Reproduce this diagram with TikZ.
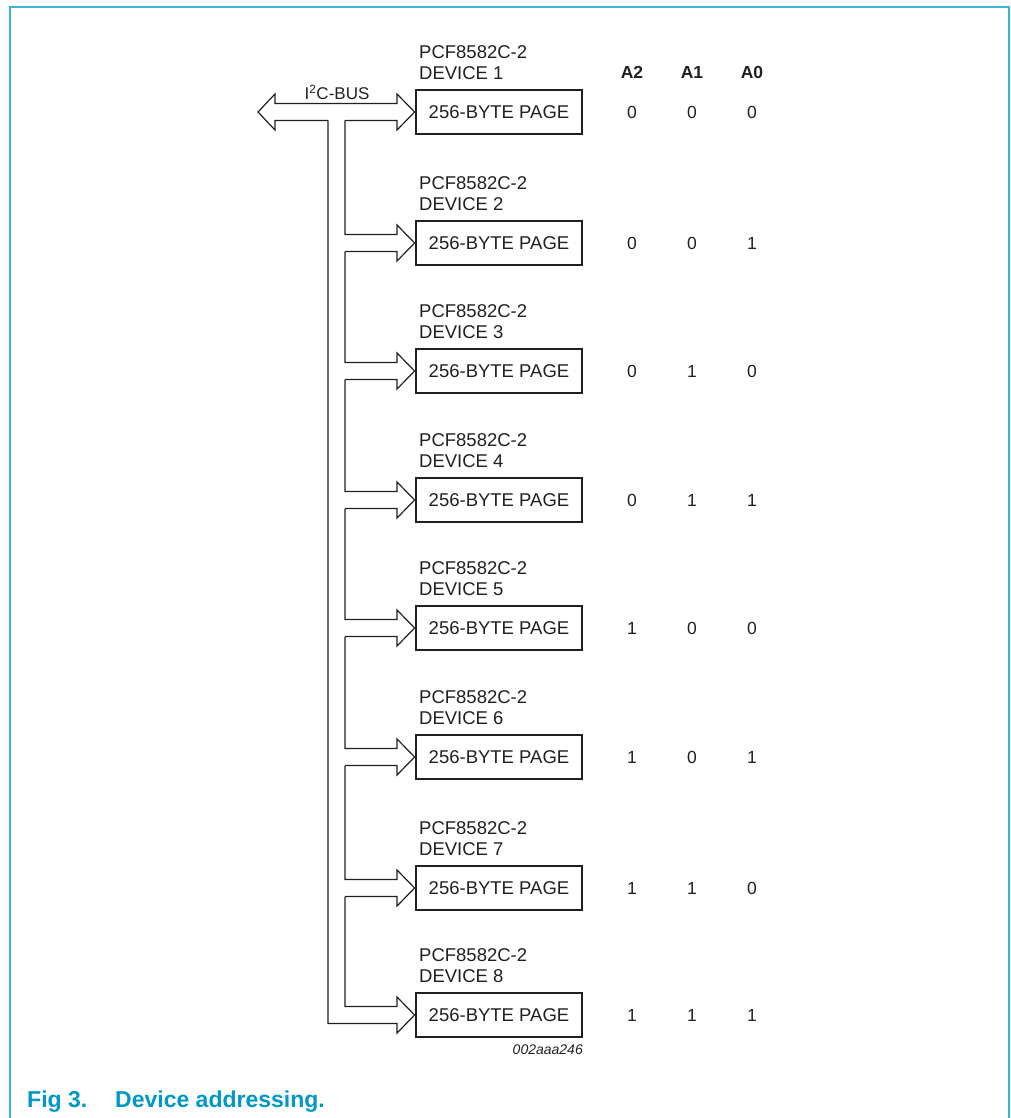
\documentclass[tikz,border=0pt]{standalone}
\usepackage{fontspec}
\setmainfont{Liberation Sans}
\definecolor{txt}{RGB}{35,31,32}
\definecolor{framec}{RGB}{60,178,214}
\definecolor{capc}{RGB}{0,152,198}
\begin{document}
\begin{tikzpicture}[x=1pt,y=-1pt,
  box/.style={draw=txt, line width=2.8pt, minimum width=166pt, minimum height=44pt, inner sep=0pt, font=\fontsize{18.5}{20}\selectfont, text=txt},
  lbl/.style={anchor=west, inner sep=0pt, font=\fontsize{18.5}{20}\selectfont, text=txt},
  bit/.style={inner sep=0pt, font=\fontsize{17.5}{20}\selectfont, text=txt},
  hdr/.style={inner sep=0pt, font=\fontsize{17.5}{20}\selectfont\bfseries, text=txt},
  bus/.style={draw=txt, line width=1.2pt, line join=miter}]
\useasboundingbox (0,0) rectangle (1010,1118);
\draw[framec, line width=2pt] (10,1118) -- (10,7);
\draw[framec, line width=1.5pt] (9,7) -- (1009,7) -- (1009,1118);
% headers
\node[hdr] (h2) at (632,72) {A2};
\node[hdr] (h1) at (692,72) {A1};
\node[hdr] (h0) at (752,72) {A0};
% devices
\foreach \i/\c/\a/\b/\z in {1/112/0/0/0,2/243/0/0/1,3/371/0/1/0,4/500/0/1/1,5/628/1/0/0,6/757/1/0/1,7/888/1/1/0,8/1015/1/1/1}{
  \node[box] (b\i) at (499,\c) {256-BYTE PAGE};
  \node[lbl] (p\i) at (419,\c-60) {PCF8582C-2};
  \node[lbl] (d\i) at (419,\c-38.5) {DEVICE \i};
  \node[bit] (x\i) at (632,\c) {\a};
  \node[bit] (y\i) at (692,\c) {\b};
  \node[bit] (z\i) at (752,\c) {\z};
}
% main bus
\coordinate (bl) at (328,120.5);
\coordinate (br) at (345,120.5);
\draw[bus] (bl) -- (275,120.5) -- (275,130) -- (258,112) -- (275,94) -- (275,103.5)
  -- (397,103.5) -- (397,94) -- (b1.west) -- (397,130) -- (397,120.5) -- (br);
\node[inner sep=0pt, font=\fontsize{17}{18}\selectfont, text=txt] (bus) at (337,92.5) {I\textsuperscript{2}C-BUS};
% branches
\foreach \i/\c/\p in {2/243/112,3/371/243,4/500/371,5/628/500,6/757/628,7/888/757}{
  \draw[bus] (345,\p+8.5) -- (345,\c-8.5) -- (397,\c-8.5) -- (397,\c-18) -- (b\i.west)
    -- (397,\c+18) -- (397,\c+8.5) -- (345,\c+8.5);
}
\draw[bus] (345,896.5) -- (345,1006.5) -- (397,1006.5) -- (397,997) -- (b8.west)
  -- (397,1033) -- (397,1023.5) -- (328,1023.5) -- (bl);
\node[anchor=east, inner sep=0pt, font=\fontsize{14}{16}\selectfont\itshape, text=txt] (ref) at (583,1050) {002aaa246};
\node[anchor=base west, inner sep=0pt, font=\fontsize{23}{26}\selectfont\bfseries, text=capc] (fig) at (27,1107) {Fig 3.};
\node[anchor=base west, inner sep=0pt, font=\fontsize{23}{26}\selectfont\bfseries, text=capc] (cap) at (115,1107) {Device addressing.};
\end{tikzpicture}
\end{document}
